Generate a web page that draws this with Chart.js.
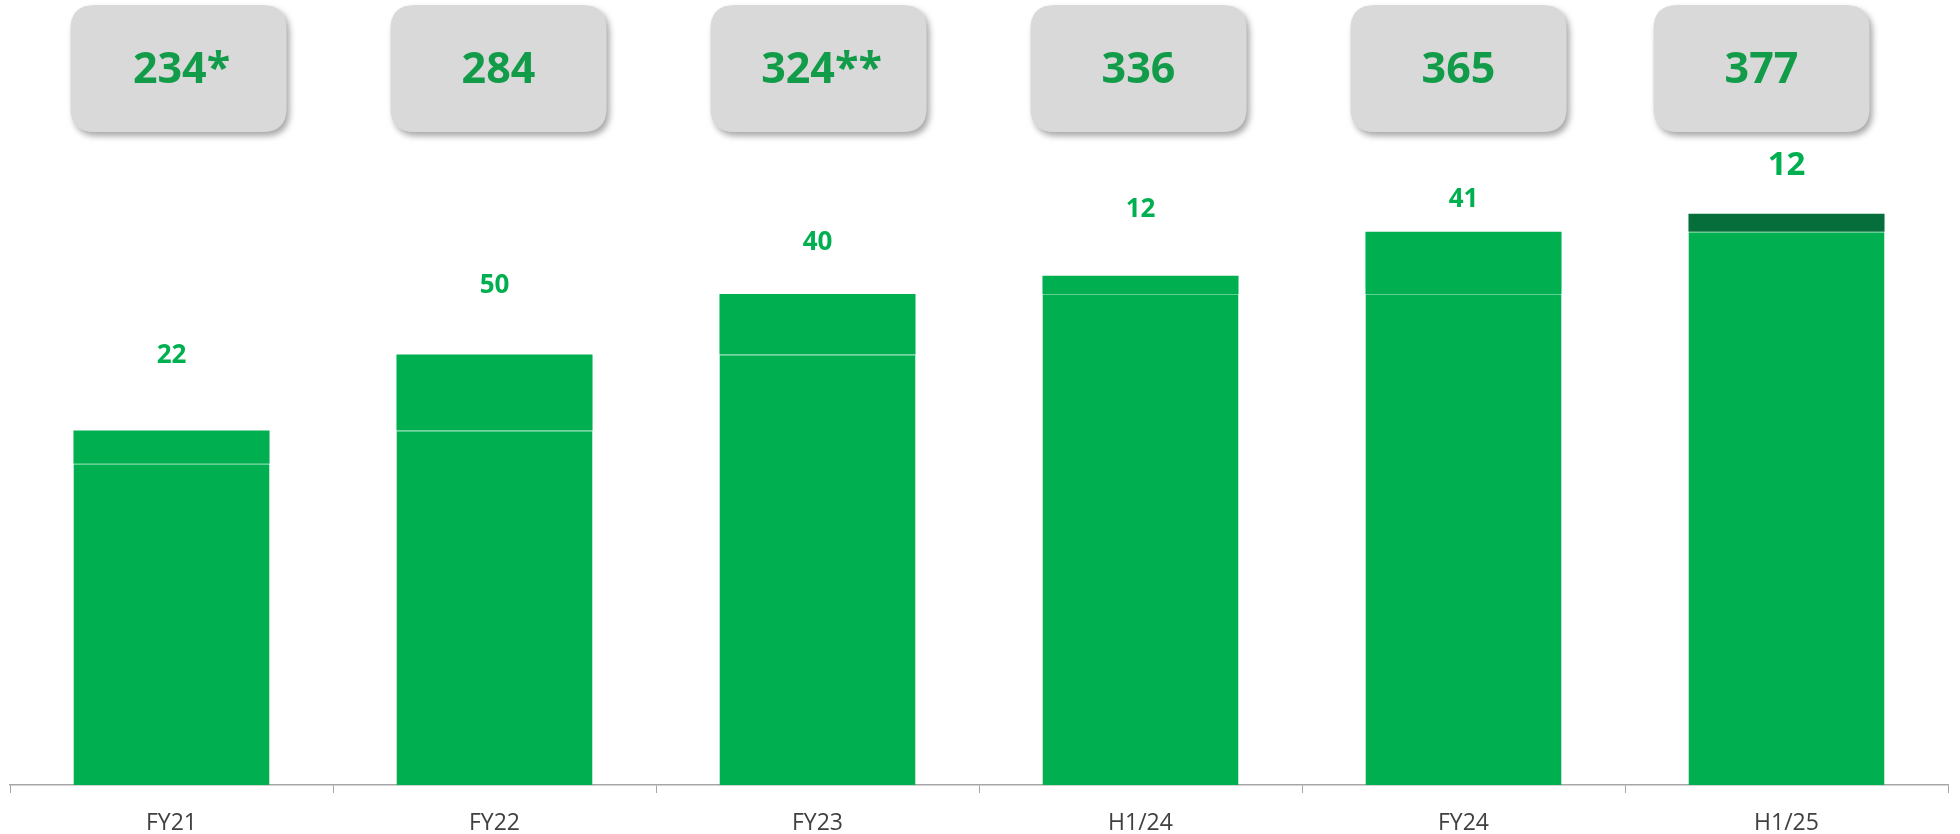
<!DOCTYPE html>
<html>
<head>
<meta charset="utf-8">
<script src="https://cdn.jsdelivr.net/npm/chart.js@4.4.1/dist/chart.umd.min.js"></script>
<style>
  html, body { margin: 0; padding: 0; background: #fff; }
  #wrap { width: 1960px; height: 834px; position: relative; }
</style>
</head>
<body>
<div id="wrap"><canvas id="chart"></canvas></div>
<script>
const categories = ["FY21", "FY22", "FY23", "H1/24", "FY24", "H1/25"];
const baseValues = [212, 234, 284, 324, 324, 365];
const addedValues = [22, 50, 40, 12, 41, 12];
const totalLabels = ["234*", "284", "324**", "336", "365", "377"];

const GREEN = "#00b050";
const DARK_GREEN = "#066e3a";
const BOX_TEXT = "#129c4a";

// the boxes and increment labels sit a bit unevenly in the original slide
const boxNudge = [7, 4, 1, -2, -5, -25];
const labelLift = [75, 69, 51, 66, 32, 48];

function roundRect(ctx, x, y, w, h, r) {
  ctx.beginPath();
  ctx.moveTo(x + r, y);
  ctx.lineTo(x + w - r, y);
  ctx.quadraticCurveTo(x + w, y, x + w, y + r);
  ctx.lineTo(x + w, y + h - r);
  ctx.quadraticCurveTo(x + w, y + h, x + w - r, y + h);
  ctx.lineTo(x + r, y + h);
  ctx.quadraticCurveTo(x, y + h, x, y + h - r);
  ctx.lineTo(x, y + r);
  ctx.quadraticCurveTo(x, y, x + r, y);
  ctx.closePath();
}

const annotations = {
  id: "annotations",
  afterDatasetsDraw(chart) {
    const ctx = chart.ctx;
    const topMeta = chart.getDatasetMeta(1);
    ctx.save();
    topMeta.data.forEach((bar, i) => {
      // total box
      const cx = bar.x + boxNudge[i];
      const bw = 216, bh = 127, by = 5;
      ctx.save();
      ctx.shadowColor = "rgba(0,0,0,0.35)";
      ctx.shadowBlur = 6;
      ctx.shadowOffsetX = 3;
      ctx.shadowOffsetY = 4;
      ctx.fillStyle = "#d9d9d9";
      roundRect(ctx, cx - bw / 2, by, bw, bh, 24);
      ctx.fill();
      ctx.restore();

      ctx.fillStyle = BOX_TEXT;
      ctx.font = "bold 43px 'Open Sans'";
      ctx.textAlign = "center";
      ctx.textBaseline = "middle";
      ctx.fillText(totalLabels[i], cx + (totalLabels[i].endsWith("*") ? 3 : 0), by + bh / 2 + 2);

      // increment label
      const last = i === addedValues.length - 1;
      ctx.fillStyle = GREEN;
      ctx.font = last ? "bold 33px 'Open Sans'" : "bold 26px 'Open Sans'";
      ctx.fillText(String(addedValues[i]), bar.x, bar.y - labelLift[i]);
    });
    ctx.restore();
  },
};

new Chart(document.getElementById("chart"), {
  type: "bar",
  data: {
    labels: categories,
    datasets: [
      {
        label: "base",
        data: baseValues,
        backgroundColor: GREEN,
        borderColor: "#5fd08f",
        borderWidth: { top: 1, left: 0, right: 0, bottom: 0 },
        borderSkipped: false,
        barPercentage: 0.607,
        categoryPercentage: 1,
      },
      {
        label: "added",
        data: addedValues,
        backgroundColor: categories.map((c, i) => (i === categories.length - 1 ? DARK_GREEN : GREEN)),
        borderWidth: 0,
        barPercentage: 0.607,
        categoryPercentage: 1,
      },
    ],
  },
  options: {
    responsive: true,
    maintainAspectRatio: false,
    animation: false,
    layout: { padding: { left: 10, right: 12, top: 0, bottom: 0 } },
    plugins: { legend: { display: false }, tooltip: { enabled: false } },
    scales: {
      x: {
        stacked: true,
        afterFit(scale) { scale.height = 49; },
        border: { display: true, color: "#a6a6a6", width: 1.5 },
        grid: { display: true, drawOnChartArea: false, drawTicks: true, tickLength: 8, color: "#a6a6a6", offset: true },
        ticks: { color: "#404040", font: { family: "'Open Sans'", size: 23 }, padding: 17 },
      },
      y: {
        stacked: true,
        display: false,
        min: 0,
        max: 518,
      },
    },
  },
  plugins: [annotations],
});
</script>
</body>
</html>
